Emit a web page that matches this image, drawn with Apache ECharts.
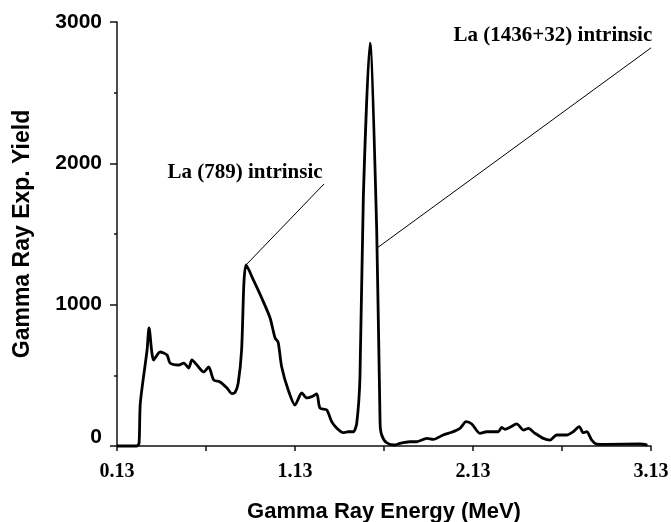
<!DOCTYPE html>
<html>
<head>
<meta charset="utf-8">
<script src="https://cdn.jsdelivr.net/npm/echarts@6/dist/echarts.min.js"></script>
<style>
html,body{margin:0;padding:0;background:#fff;}
#chart{width:671px;height:522px;}
</style>
</head>
<body>
<div id="chart"></div>
<script>
// Gamma ray energy (MeV)
var energy = [0.130,0.242,0.254,0.261,0.299,0.310,0.336,0.372,0.411,0.428,0.477,0.505,0.533,0.551,0.579,0.617,0.645,0.673,0.709,0.748,0.776,0.793,0.811,0.830,0.843,0.855,0.896,0.943,0.990,1.018,1.035,1.055,1.092,1.130,1.168,1.196,1.224,1.252,1.270,1.308,1.336,1.364,1.401,1.429,1.458,1.477,1.495,1.514,1.551,1.589,1.608,1.617,1.645,1.692,1.720,1.776,1.814,1.870,1.907,1.963,2.010,2.057,2.091,2.123,2.169,2.207,2.272,2.291,2.310,2.338,2.376,2.413,2.441,2.478,2.525,2.563,2.600,2.656,2.693,2.727,2.749,2.769,2.797,2.825,2.881,3.068,3.110];
// Gamma ray experimental yield
var yieldVals = [0,0,21,304,679,835,608,665,644,587,573,587,552,609,573,524,559,467,453,410,370,378,446,679,1153,1281,1175,1047,906,764,736,561,396,290,375,340,349,368,269,255,172,127,94,101,101,163,490,1764,2850,1529,163,78,23,7,19,30,30,54,47,78,97,125,172,156,90,101,101,132,118,132,156,113,125,90,54,42,78,78,101,137,94,101,42,14,12,14,7];
var xMajorTicks = [0.13,1.13,2.13,3.13];
var xAllTicks = [0.13,0.63,1.13,1.63,2.13,2.63,3.13];
var annot1 = {text:'La (789) intrinsic', from:[0.855,1281], to:[1.293,1854], textAt:[0.849,1935]};
var annot2 = {text:'La (1436+32) intrinsic', from:[1.591,1401], to:[3.13,2817], textAt:[2.579,2905]};

var seriesData = energy.map(function(e,i){return [e, yieldVals[i]];});
var chart = echarts.init(document.getElementById('chart'), null, {renderer:'canvas'});
var serifBold = {fontFamily:'Liberation Serif', fontWeight:'bold', fontSize:21, color:'#000'};
chart.setOption({
  animation:false,
  backgroundColor:'#fff',
  grid:{left:117, top:22, right:20, bottom:76, containLabel:false, outerBoundsMode:'none'},
  xAxis:{
    type:'value', min:0.13, max:3.13,
    axisLine:{show:true, onZero:false, lineStyle:{color:'#111', width:1.5}},
    axisTick:{show:true, customValues:xAllTicks, length:5, lineStyle:{color:'#111', width:1.5}},
    axisLabel:{customValues:xMajorTicks, formatter:function(v){return v.toFixed(2);}, fontFamily:'Liberation Serif', fontWeight:'bold', fontSize:20, color:'#000', margin:16},
    splitLine:{show:false},
    name:'Gamma Ray Energy (MeV)', nameLocation:'middle', nameGap:55,
    nameTextStyle:{fontFamily:'Liberation Sans', fontWeight:'bold', fontSize:22, color:'#000'}
  },
  yAxis:{
    type:'value', min:0, max:3000, interval:1000,
    axisLine:{show:true, lineStyle:{color:'#111', width:1.5}},
    axisTick:{show:true, length:7, lineStyle:{color:'#111', width:1.5}},
    minorTick:{show:true, splitNumber:2, length:3, lineStyle:{color:'#111', width:1.5}},
    axisLabel:{
      fontFamily:'Liberation Sans', fontWeight:'bold', fontSize:21, color:'#000', margin:15,
      formatter:function(v){ return v === 0 ? '{z|0}' : String(v); },
      rich:{z:{fontFamily:'Liberation Sans', fontWeight:'bold', fontSize:21, color:'#000', padding:[0,0,18,0]}}
    },
    splitLine:{show:false},
    name:'Gamma Ray Exp. Yield', nameLocation:'middle', nameGap:83,
    nameTextStyle:{fontFamily:'Liberation Sans', fontWeight:'bold', fontSize:23, color:'#000'}
  },
  series:[{
    type:'line', data:seriesData, showSymbol:false, symbol:'none', smooth:0.25,
    lineStyle:{color:'#000', width:2.8}, clip:false,
    markLine:{
      silent:true, symbol:['none','none'], animation:false,
      lineStyle:{color:'#000', width:1, type:'solid'},
      label:{show:false},
      data:[
        [{coord:annot1.from},{coord:annot1.to}],
        [{coord:annot2.from},{coord:annot2.to}]
      ]
    },
    markPoint:{
      silent:true, symbol:'circle', symbolSize:0,
      label:Object.assign({show:true, position:'inside'}, serifBold),
      data:[
        {coord:annot1.textAt, value:annot1.text, label:{formatter:annot1.text}},
        {coord:annot2.textAt, value:annot2.text, label:{formatter:annot2.text}}
      ]
    }
  }]
});
</script>
</body>
</html>
